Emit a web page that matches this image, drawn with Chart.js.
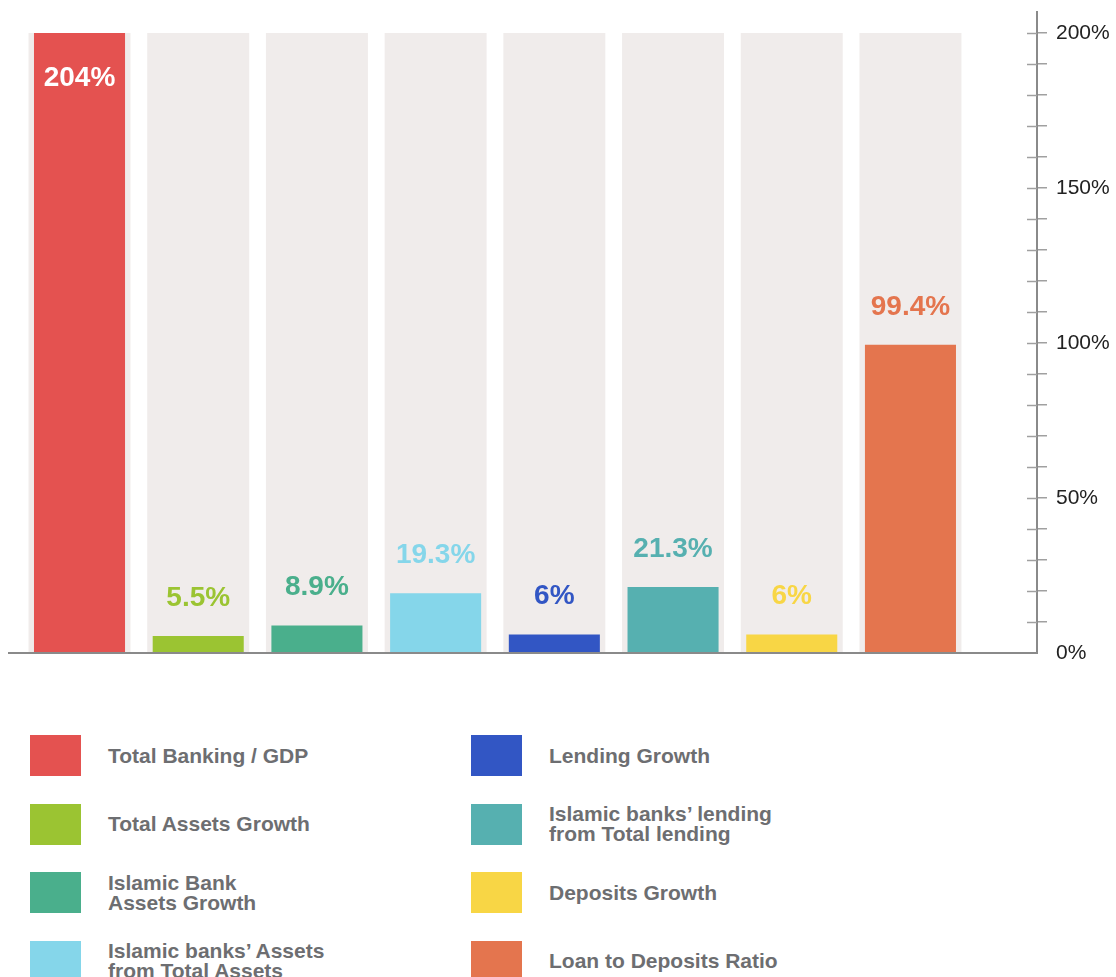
<!DOCTYPE html>
<html>
<head>
<meta charset="utf-8">
<script src="https://cdn.jsdelivr.net/npm/chart.js@4.4.1/dist/chart.umd.min.js"></script>
<style>
  html, body { margin: 0; padding: 0; background: #fff; overflow: hidden; }
  body { width: 1116px; height: 977px; position: relative; font-family: "Helvetica Neue", Helvetica, Arial, "Liberation Sans", sans-serif; }
  #wrap { position: absolute; left: 0; top: 0; width: 1116px; height: 700px; }
  #legend {
    position: absolute; left: 30px; top: 735px;
    display: grid; grid-template-columns: 441px 400px; grid-auto-flow: column;
    grid-template-rows: repeat(4, 41px); row-gap: 27.6px;
  }
  .item { display: flex; align-items: center; }
  .swatch { width: 51px; height: 41px; flex: none; margin-right: 27px; }
  .text { font-weight: bold; font-size: 21px; line-height: 20px; color: #6d6e71; white-space: pre; }
</style>
</head>
<body>
<div id="wrap"><canvas id="chart"></canvas></div>
<div id="legend"></div>
<script>
// categories (legend names) and values in %
const labels = [
  'Total Banking / GDP',
  'Total Assets Growth',
  'Islamic Bank\nAssets Growth',
  'Islamic banks’ Assets\nfrom Total Assets',
  'Lending Growth',
  'Islamic banks’ lending\nfrom Total lending',
  'Deposits Growth',
  'Loan to Deposits Ratio'
];
const values = [204, 5.5, 8.9, 19.3, 6, 21.3, 6, 99.4];
const barColors = ['#e45250', '#9bc432', '#4aaf8c', '#85d6ea', '#3256c4', '#56b0b0', '#f8d645', '#e4754e'];
const yTicks = [0, 50, 100, 150, 200];
const yMax = 200;

const fontFamily = '"Helvetica Neue", Helvetica, Arial, "Liberation Sans", sans-serif';

// grey track behind each bar, full height of the scale
const trackValues = labels.map(() => yMax);

// legend (html, 2 columns)
const legendEl = document.getElementById('legend');
labels.forEach((name, i) => {
  const item = document.createElement('div');
  item.className = 'item';
  const sw = document.createElement('div');
  sw.className = 'swatch';
  sw.style.background = barColors[i];
  const tx = document.createElement('div');
  tx.className = 'text';
  tx.textContent = name;
  item.appendChild(sw);
  item.appendChild(tx);
  legendEl.appendChild(item);
});

// value labels above the bars (inside for the clipped one)
const valueLabels = {
  id: 'valueLabels',
  afterDatasetsDraw(chart) {
    const ctx = chart.ctx;
    const meta = chart.getDatasetMeta(0);
    ctx.save();
    ctx.font = 'bold 28px ' + fontFamily;
    ctx.textAlign = 'center';
    ctx.textBaseline = 'middle';
    meta.data.forEach((bar, i) => {
      const top = Math.max(bar.y, chart.chartArea.top);
      const inside = values[i] > yMax;
      ctx.fillStyle = inside ? '#ffffff' : barColors[i];
      ctx.fillText(values[i] + '%', bar.x, inside ? top + 45 : top - 38);
    });
    ctx.restore();
  }
};

// right axis: line goes a bit above the top, ticks cross the line
const axisExtras = {
  id: 'axisExtras',
  afterDraw(chart) {
    const ctx = chart.ctx;
    const y = chart.scales.y;
    const x0 = y.left;
    ctx.save();
    ctx.strokeStyle = '#8a8a8a';
    ctx.lineWidth = 2;
    ctx.beginPath();
    ctx.moveTo(x0, chart.chartArea.top - 22);
    ctx.lineTo(x0, chart.chartArea.top);
    ctx.stroke();
    ctx.strokeStyle = '#a0a0a0';
    ctx.lineWidth = 1.5;
    y.ticks.forEach(t => {
      if (t.value === 0) return;
      const py = Math.round(y.getPixelForValue(t.value)) + 0.5;
      ctx.beginPath();
      ctx.moveTo(x0 - 10, py);
      ctx.lineTo(x0, py);
      ctx.stroke();
    });
    ctx.restore();
  }
};

const ctxChart = document.getElementById('chart').getContext('2d');

new Chart(ctxChart, {
  type: 'bar',
  data: {
    datasets: [{
      label: 'values',
      data: values.map((v, i) => ({ x: i + 1, y: v })),
      backgroundColor: barColors,
      categoryPercentage: 1,
      barPercentage: 0.767,
      grouped: false,
      clip: 0
    }, {
      label: 'track',
      data: trackValues.map((v, i) => ({ x: i + 1, y: v })),
      backgroundColor: '#f0eceb',
      categoryPercentage: 1,
      barPercentage: 0.859,
      grouped: false,
      clip: 0
    }]
  },
  options: {
    responsive: true,
    maintainAspectRatio: false,
    animation: false,
    layout: { padding: { left: 9, right: 0, top: 33, bottom: 47 } },
    plugins: {
      legend: { display: false },
      tooltip: { enabled: false }
    },
    scales: {
      x: {
        type: 'linear',
        offset: false,
        min: 0.406,
        max: 9.066,
        afterBuildTicks: (scale) => {
          scale.ticks = labels.map((_, i) => ({ value: i + 1 }));
        },
        ticks: { display: false },
        grid: { display: false, drawTicks: false, offset: false },
        border: { display: true, color: '#8a8a8a', width: 2, z: 1 }
      },
      y: {
        position: 'right',
        min: 0,
        max: yMax,
        afterFit: (scale) => { scale.width = 79; },
        ticks: {
          stepSize: 10,
          padding: 9,
          color: '#222',
          font: { family: fontFamily, size: 21 },
          callback: (v) => yTicks.includes(v) ? v + '%' : ''
        },
        grid: {
          drawOnChartArea: false,
          drawTicks: true,
          tickLength: 10,
          lineWidth: 1.5,
          color: (c) => (c.tick && c.tick.value === 0) ? 'rgba(0,0,0,0)' : '#a0a0a0'
        },
        border: { display: true, color: '#8a8a8a', width: 2, z: 1 }
      }
    }
  },
  plugins: [valueLabels, axisExtras]
});
</script>
</body>
</html>
